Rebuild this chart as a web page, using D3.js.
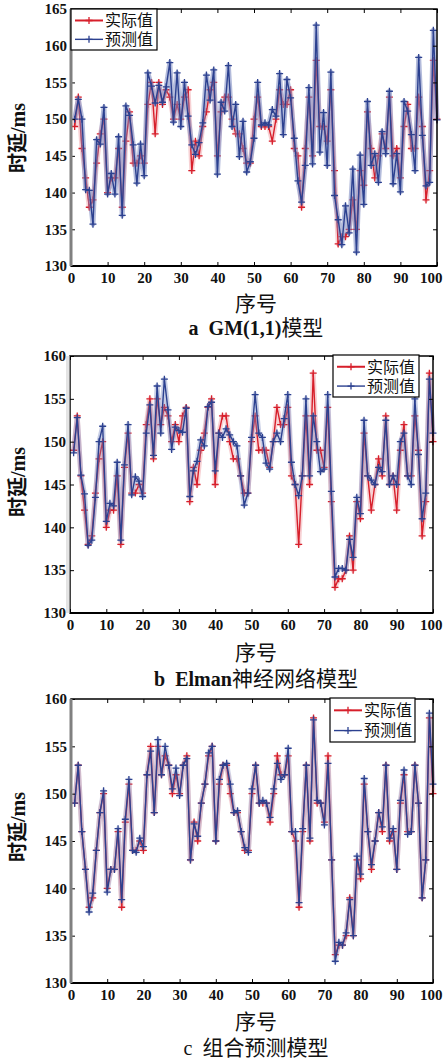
<!DOCTYPE html>
<html>
<head>
<meta charset="utf-8">
<script src="https://cdn.jsdelivr.net/npm/d3@7"></script>
<style>
  body { margin: 0; background: #fff; }
  svg text { font-family: "Liberation Serif", "Noto Sans CJK SC", serif; white-space: pre; }
</style>
</head>
<body>
<script>
// measured delay (same in every panel), sample number 1..100
var actual = [149,153,146,142,138,139,144,148,150,140,
              142,142,146,138,147,151,144,144,145,144,
              152,155,148,155,152,154,153,150,152,150,
              153,154,143,147,145,149,151,154,155,145,
              151,153,153,150,148,148,146,144,144,150,
              153,149,149,149,147,150,154,152,152,154,
              146,145,138,146,153,145,158,149,149,147,
              154,143,133,134,134,135,139,135,143,141,
              151,146,142,145,148,146,153,145,146,142,
              149,152,146,146,153,149,139,143,158,150];

var gmPred = [150,152.7,150,140.4,140.3,135.7,147.2,146.6,151.6,139.8,
              142.6,139.8,147.6,136.9,151.8,150.5,146.5,141.3,146.6,142.3,
              156.3,154.5,152.2,154.6,152.3,154.4,157.7,149.6,156.3,149,
              155,150.4,146.5,145.2,146.8,149.5,156,152.6,156.7,142.5,
              152.3,151.1,157.3,149,152,144.9,149.7,142.8,144.2,147.4,
              155,149.2,149.5,149.2,151.3,150.4,156.2,147.9,155.4,152.9,
              147.4,141.6,138.7,143.7,154.3,143.9,162.8,145.5,150.9,143.7,
              156.4,139.6,136.3,132.9,138.2,134.5,143.2,131.9,145.1,138.4,
              152.4,143.7,145.3,141.4,148.3,145.3,153.8,141.2,145.3,140.1,
              152.4,151.1,147.9,143,158.4,147.8,140.9,141.4,162.1,149.9];

var elmanPred = [148.7,152.8,146.1,143.9,137.9,138.5,143.5,150,151.8,140.7,
                 142.8,142.5,147.6,138.5,147.3,152,143.8,145.9,145.4,143.6,
                 151,154.3,148.4,156.5,151,157.3,153.7,149.1,151.7,151.3,
                 151.1,153.9,143.6,146.6,147.7,150.2,149.5,154.1,154.6,146.6,
                 151,150.5,151.5,150.8,150,149.5,146,142.6,144,150.5,
                 155.5,151,150.5,147.5,146.8,150,151,150,152.7,155.5,
                 147.6,145,143.7,146,155,146,153,150,146.5,146.8,
                 155.5,144.2,134.2,135.2,135.2,135,138.6,136.5,143.5,141.6,
                 152.5,146,145.5,145,147,146.5,152.5,145,146,145,
                 150,151,146,145,155,148.5,141,144,157.3,151];

var comboPred = [149,153,146,142,137.5,139.5,144,148,150.3,139.6,
                 142,142,146.3,138.8,147.3,151.5,144,143.8,145.3,144.4,
                 152,154.5,148,155.7,152,155,153,150.5,152.7,149.8,
                 153,153.7,143,146.8,145.5,149,151,154.3,155,145,
                 151.5,153,153.2,151,148,148.2,146,144.3,143.8,150.5,
                 153,149,149.3,149,147.5,150.5,153.2,151.5,152,154.8,
                 146,146,138.5,146.3,153,145.3,157.8,149.3,149,146.7,
                 153.2,143,132.3,134.3,134,135.3,138.8,135,143.4,141.5,
                 151.6,146,142.5,145,148,146.5,153,145.3,146.3,142,
                 149.3,152.5,145.7,146,153,149,139,143,158.5,151];

var xTicks = [0,10,20,30,40,50,60,70,80,90,100];
var yTicksA = [130,135,140,145,150,155,160,165];
var yTicksBC = [130,135,140,145,150,155,160];
var seriesNames = ["实际值", "预测值"];

var red = "#d71f2b", blue = "#2c4190";

var svg = d3.select("body").append("svg")
    .attr("width", 444)
    .attr("height", 1061);

var panels = [
  {pred: gmPred, yTicks: yTicksA, left: 71, right: 437, top: 9, bottom: 266,
   legend: [71, 9, 86, 41], xLabelY: 303, captionY: 327, yLabelY: 138,
   letter: "a  GM(1,1)", letterBold: true, cjk: "模型", haloB: 0.55, edge: "gray"},
  {pred: elmanPred, yTicks: yTicksBC, left: 70, right: 433, top: 356, bottom: 613,
   legend: [333, 355, 86, 42], xLabelY: 652, captionY: 678, yLabelY: 482,
   letter: "b  Elman", letterBold: true, cjk: "神经网络模型", haloB: 0.4, edge: "light"},
  {pred: comboPred, yTicks: yTicksBC, left: 71, right: 433, top: 699, bottom: 983,
   legend: [330, 698, 85, 44], xLabelY: 1021, captionY: 1047, yLabelY: 827,
   letter: "c  ", letterBold: false, cjk: "组合预测模型", haloB: 0.3, edge: "gray"}
];

panels.forEach(drawPanel);

function drawPanel(p) {
  var x = d3.scaleLinear().domain([0, 100]).range([p.left, p.right]);
  var y = d3.scaleLinear().domain([130, d3.max(p.yTicks)]).range([p.bottom, p.top]);
  var g = svg.append("g");

  // series, red first then blue on top
  var sets = [
    {vals: actual, color: red, halo: "#ee9aa0", haloOp: 0.45},
    {vals: p.pred, color: blue, halo: "#7584bd", haloOp: p.haloB}
  ];
  var line = d3.line()
      .x(function(d, i) { return x(i + 1); })
      .y(function(d) { return y(d); });

  sets.forEach(function(s) {
    g.append("path").datum(s.vals)
      .attr("d", line).attr("fill", "none")
      .attr("stroke", s.halo).attr("stroke-opacity", s.haloOp)
      .attr("stroke-width", 5).attr("stroke-linejoin", "round");
    g.append("path").datum(s.vals)
      .attr("d", line).attr("fill", "none")
      .attr("stroke", s.color).attr("stroke-width", 1.4);
    g.selectAll(null).data(s.vals).enter().append("path")
      .attr("transform", function(d, i) { return "translate(" + x(i + 1) + "," + y(d) + ")"; })
      .attr("d", "M-3.5,0H3.5M0,-3.5V3.5")
      .attr("stroke", s.color).attr("stroke-width", 1.3);
  });

  // axes with inward ticks on all sides
  var xb = g.append("g").attr("transform", "translate(0," + p.bottom + ")")
      .call(d3.axisBottom(x).tickValues(xTicks).tickSizeInner(-4).tickSizeOuter(0).tickPadding(6));
  g.append("g").attr("transform", "translate(" + p.left + ",0)")
      .call(d3.axisLeft(y).tickValues(p.yTicks).tickSizeInner(-4).tickSizeOuter(0).tickPadding(4));
  g.append("g").attr("transform", "translate(0," + p.top + ")")
      .call(d3.axisTop(x).tickValues(xTicks).tickSizeInner(-4).tickSizeOuter(0).tickFormat(""));
  g.append("g").attr("transform", "translate(" + p.right + ",0)")
      .call(d3.axisRight(y).tickValues(p.yTicks).tickSizeInner(-4).tickSizeOuter(0).tickFormat(""));
  g.selectAll(".domain").remove();
  g.selectAll(".tick line").attr("stroke", "#000").attr("stroke-width", 1);
  g.selectAll(".tick text").attr("font-size", 15).attr("font-weight", "bold")
      .attr("font-family", "Liberation Serif").attr("fill", "#111");
  // keep the last x label inside the page
  if (p.right + 12 > 444) {
    xb.selectAll(".tick text").filter(function(d) { return d === 100; })
      .attr("text-anchor", "end").attr("x", 444 - p.right - 2);
  }

  // frame
  g.append("rect")
    .attr("x", p.left).attr("y", p.top)
    .attr("width", p.right - p.left).attr("height", p.bottom - p.top)
    .attr("fill", "none").attr("stroke", "#000").attr("stroke-width", 1.5);
  g.append("line")
    .attr("x1", p.left).attr("x2", p.right).attr("y1", p.bottom).attr("y2", p.bottom)
    .attr("stroke", "#000").attr("stroke-width", 2.2);
  if (p.edge === "gray") {
    g.append("line")
      .attr("x1", p.left).attr("x2", p.left).attr("y1", p.top).attr("y2", p.bottom)
      .attr("stroke", "#808080").attr("stroke-width", 3);
  } else {
    g.append("rect")
      .attr("x", p.left - 4).attr("y", p.top).attr("width", 3.5).attr("height", p.bottom - p.top)
      .attr("fill", "#e4e4e4");
  }

  // legend
  var lg = g.append("g").attr("transform", "translate(" + p.legend[0] + "," + p.legend[1] + ")");
  lg.append("rect").attr("width", p.legend[2]).attr("height", p.legend[3])
    .attr("fill", "#fff").attr("stroke", "#000").attr("stroke-width", 1.2);
  [red, blue].forEach(function(c, k) {
    var ly = p.legend[3] * (k === 0 ? 0.28 : 0.74);
    lg.append("line").attr("x1", 4).attr("x2", 32).attr("y1", ly).attr("y2", ly)
      .attr("stroke", c).attr("stroke-width", k === 0 ? 2 : 1.4);
    lg.append("path").attr("transform", "translate(18," + ly + ")")
      .attr("d", "M-3.5,0H3.5M0,-3.5V3.5").attr("stroke", c).attr("stroke-width", 1.3);
    lg.append("text").attr("x", 34).attr("y", ly).attr("dy", "0.36em")
      .attr("font-size", 16).attr("fill", "#111").text(seriesNames[k]);
  });

  // titles
  g.append("text")
    .attr("transform", "translate(18," + p.yLabelY + ") rotate(-90)")
    .attr("text-anchor", "middle").attr("dy", "0.36em")
    .attr("font-size", 20).attr("font-weight", "bold").attr("fill", "#111")
    .text("时延/ms");
  g.append("text")
    .attr("x", 256).attr("y", p.xLabelY).attr("dy", "0.36em")
    .attr("text-anchor", "middle").attr("font-size", 21).attr("fill", "#111")
    .text("序号");
  var cap = g.append("text")
    .attr("x", 256).attr("y", p.captionY).attr("dy", "0.36em")
    .attr("text-anchor", "middle").attr("font-size", 21).attr("fill", "#111");
  cap.append("tspan").attr("font-weight", p.letterBold ? "bold" : "normal")
    .attr("font-size", 20).text(p.letter);
  cap.append("tspan").text(p.cjk);
}
</script>
</body>
</html>
